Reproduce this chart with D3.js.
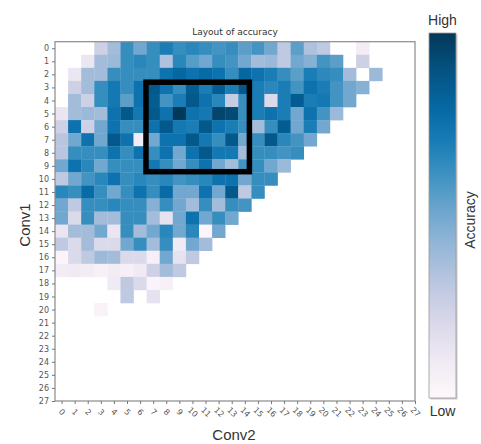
<!DOCTYPE html>
<html>
<head>
<meta charset="utf-8">
<script src="https://cdn.jsdelivr.net/npm/d3@7"></script>
<style>
  body { margin: 0; background: #fff; }
  svg { display: block; }
</style>
</head>
<body>
<svg></svg>
<script>
// tick labels for both axes
var conv1Ticks = d3.range(28);
var conv2Ticks = d3.range(28);

// accuracy per Conv1 row, index = Conv2 column, null = no value
var acc = [
  [null,null,null,0.25,0.38,0.63,0.5,0.63,0.7,0.63,0.66,0.63,0.6,0.63,0.55,0.6,0.5,0.3,0.55,0.35,0.3,null,null,0.08],
  [null,null,0.12,0.38,0.4,0.63,0.66,0.63,0.35,0.66,0.56,0.5,0.63,0.6,0.5,0.38,0.4,0.3,0.5,0.45,0.6,0.55,null,0.25],
  [null,0.12,0.38,0.38,0.63,0.63,0.63,0.63,0.75,0.8,0.75,0.78,0.75,0.63,0.8,0.75,0.7,0.63,0.55,0.7,0.65,0.63,0.38,null,0.4],
  [null,0.25,0.38,0.63,0.72,0.63,0.75,0.87,0.75,0.63,0.85,0.7,0.85,0.7,0.87,0.7,0.66,0.7,0.6,0.75,0.7,0.6,0.5,0.45],
  [null,0.38,0.25,0.63,0.72,0.55,0.75,0.85,0.6,0.7,0.87,0.75,0.66,0.28,0.63,0.7,0.2,0.7,0.85,0.7,0.72,0.6,0.5],
  [0.13,0.38,0.4,0.38,0.75,0.87,0.72,0.87,0.75,1.0,0.75,0.72,0.95,0.93,0.63,0.7,0.75,0.7,0.5,0.75,0.6,0.4],
  [0.25,0.75,0.25,0.5,0.75,0.63,0.63,0.75,0.87,0.72,0.7,0.87,0.75,0.7,0.63,0.38,0.63,0.85,0.5,0.7,0.5],
  [0.32,0.5,0.75,0.5,0.87,0.75,0.08,0.5,0.75,0.75,0.87,0.72,0.63,0.87,0.5,0.63,0.87,0.66,0.6,0.5],
  [0.32,0.63,0.63,0.63,0.75,0.63,0.75,0.63,0.75,0.5,0.75,0.87,0.72,0.72,0.38,0.63,0.63,0.6,0.63],
  [0.5,0.75,0.66,0.5,0.63,0.63,0.63,0.72,0.63,0.5,0.63,0.75,0.5,0.38,0.6,0.63,0.5,0.4],
  [0.3,0.5,0.6,0.66,0.75,0.63,0.66,0.63,0.66,0.6,0.63,0.66,0.75,0.75,0.5,0.63,0.63],
  [0.66,0.63,0.78,0.63,0.5,0.63,0.75,0.63,0.78,0.5,0.5,0.75,0.5,0.87,0.3,0.63],
  [0.5,0.3,0.63,0.63,0.66,0.63,0.63,0.45,0.63,0.5,0.38,0.63,0.38,0.63,0.6],
  [0.5,0.2,0.63,0.38,0.38,0.63,0.63,0.38,0.15,0.5,0.75,0.5,0.63,0.5],
  [0.13,0.38,0.38,0.5,0.13,0.63,0.38,0.5,0.66,0.5,0.66,0.02,0.5],
  [0.3,0.2,0.38,0.2,0.2,0.5,0.63,0.38,0.63,0.1,0.5,0.38],
  [0.02,0.2,0.3,0.4,0.38,0.2,0.2,0.06,0.5,0.15,0.3],
  [0.08,0.1,0.08,0.05,0.08,0.06,0.1,0.25,0.38,0.3],
  [null,null,null,null,0.1,0.3,0.2,0.03,0.05],
  [null,null,null,null,null,0.3,null,0.15],
  [null,null,null,0.04]
];

// highlighted block (Conv2 from..to, Conv1 from..to)
var boxConv2 = [6.45, 14.35];
var boxConv1 = [2.6, 9.45];

var svg = d3.select("svg").attr("width", 481).attr("height", 444);

var plotL = 55, plotR = 415, plotT = 41.7, plotB = 401;

var x = d3.scaleLinear().domain([-0.5, 27]).range([plotL, plotR]);
var y = d3.scaleLinear().domain([-0.5, 27]).range([plotT, plotB]);
var color = d3.scaleSequential(d3.interpolatePuBu).domain([0, 1]);

var cw = x(1) - x(0), ch = y(1) - y(0);

var cells = [];
acc.forEach(function(row, r) {
  row.forEach(function(v, c) {
    if (v !== null) cells.push({r: r, c: c, v: v});
  });
});

var defs = svg.append("defs");
defs.append("clipPath").attr("id", "plotclip")
  .append("rect").attr("x", plotL).attr("y", plotT)
  .attr("width", plotR - plotL).attr("height", plotB - plotT);

svg.append("g").attr("clip-path", "url(#plotclip)")
  .selectAll("rect").data(cells).enter().append("rect")
  .attr("x", function(d) { return x(d.c - 0.5); })
  .attr("y", function(d) { return y(d.r - 0.5); })
  .attr("width", cw + 0.3)
  .attr("height", ch + 0.3)
  .attr("fill", function(d) { return color(d.v); });

// black box
svg.append("rect")
  .attr("x", x(boxConv2[0])).attr("y", y(boxConv1[0]))
  .attr("width", x(boxConv2[1]) - x(boxConv2[0]))
  .attr("height", y(boxConv1[1]) - y(boxConv1[0]))
  .attr("fill", "none").attr("stroke", "#000").attr("stroke-width", 5.5);

// frame
svg.append("rect")
  .attr("x", plotL).attr("y", plotT)
  .attr("width", plotR - plotL).attr("height", plotB - plotT)
  .attr("fill", "none").attr("stroke", "#8a8a8a").attr("stroke-width", 1.2);

var xAxis = svg.append("g").attr("transform", "translate(0," + plotB + ")")
  .call(d3.axisBottom(x).tickValues(conv2Ticks).tickSize(3).tickSizeOuter(0));
xAxis.select(".domain").remove();
xAxis.selectAll("line").attr("stroke", "#777");
xAxis.selectAll("text")
  .attr("y", 0).attr("dy", "0.35em")
  .attr("text-anchor", "middle")
  .attr("transform", "translate(0,11) rotate(45)")
  .attr("fill", "#555")
  .style("font", "8px 'DejaVu Sans'");

var yAxis = svg.append("g").attr("transform", "translate(" + plotL + ",0)")
  .call(d3.axisLeft(y).tickValues(conv1Ticks).tickSize(3).tickSizeOuter(0));
yAxis.select(".domain").remove();
yAxis.selectAll("line").attr("stroke", "#777");
yAxis.selectAll("text")
  .attr("x", -6)
  .attr("fill", "#555")
  .style("font", "8px 'DejaVu Sans'");

svg.append("text")
  .attr("x", (plotL + plotR) / 2).attr("y", 35)
  .attr("text-anchor", "middle")
  .attr("fill", "#333")
  .style("font", "9px 'DejaVu Sans'")
  .text("Layout of accuracy");

svg.append("text")
  .attr("transform", "translate(30,225) rotate(-90)")
  .attr("text-anchor", "middle")
  .attr("fill", "#333")
  .style("font", "15px 'Liberation Sans'")
  .text("Conv1");

svg.append("text")
  .attr("x", 234).attr("y", 440)
  .attr("text-anchor", "middle")
  .attr("fill", "#333")
  .style("font", "15px 'Liberation Sans'")
  .text("Conv2");

// colorbar
var cbX = 429, cbW = 27, cbTop = 33, cbBottom = 398;
var grad = defs.append("linearGradient")
  .attr("id", "cbgrad").attr("x1", 0).attr("y1", 1).attr("x2", 0).attr("y2", 0);
grad.selectAll("stop").data(d3.range(0, 1.001, 0.05)).enter().append("stop")
  .attr("offset", function(d) { return d; })
  .attr("stop-color", function(d) { return color(d); });

svg.append("rect")
  .attr("x", cbX + 1.5).attr("y", cbTop + 1.5)
  .attr("width", cbW).attr("height", cbBottom - cbTop)
  .attr("fill", "#ccc");
svg.append("rect")
  .attr("x", cbX).attr("y", cbTop)
  .attr("width", cbW).attr("height", cbBottom - cbTop)
  .attr("fill", "url(#cbgrad)")
  .attr("stroke", "#999").attr("stroke-width", 0.8);

svg.append("text")
  .attr("x", cbX + cbW / 2).attr("y", 25)
  .attr("text-anchor", "middle").attr("fill", "#333")
  .style("font", "14px 'Liberation Sans'")
  .text("High");
svg.append("text")
  .attr("x", cbX + cbW / 2).attr("y", 416)
  .attr("text-anchor", "middle").attr("fill", "#333")
  .style("font", "14px 'Liberation Sans'")
  .text("Low");
svg.append("text")
  .attr("transform", "translate(475,220) rotate(-90)")
  .attr("text-anchor", "middle").attr("fill", "#333")
  .style("font", "14px 'Liberation Sans'")
  .text("Accuracy");
</script>
</body>
</html>
